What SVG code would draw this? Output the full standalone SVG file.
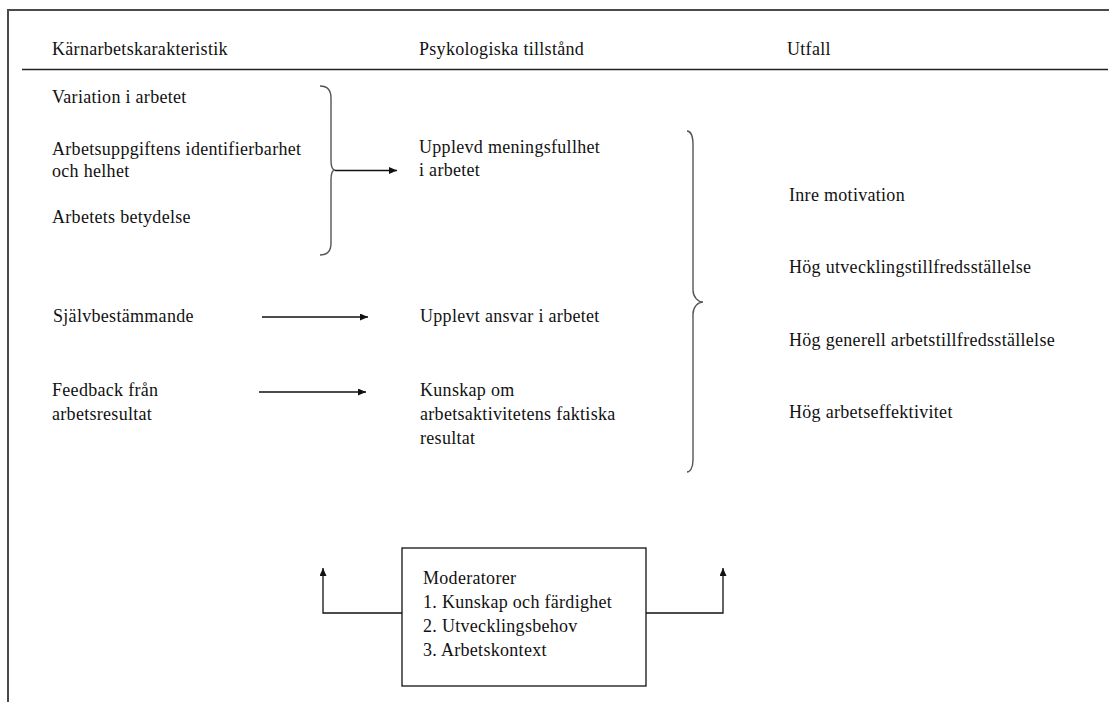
<svg xmlns="http://www.w3.org/2000/svg" width="1109" height="702" viewBox="0 0 1109 702">
<style>
text{font-family:"Liberation Serif","Times New Roman",serif;font-size:18px;fill:#111;letter-spacing:0.3px}
.frame{stroke:#4a4a4a;stroke-width:2;fill:none}
.sep{stroke:#222;stroke-width:1.5;fill:none}
.brace{stroke:#555;stroke-width:1.4;fill:none}
.conn{stroke:#111;stroke-width:1.3;fill:none}
.box{stroke:#111;stroke-width:1.3;fill:#fff}
</style>
<defs>
<marker id="ah" markerUnits="userSpaceOnUse" markerWidth="9" markerHeight="8" refX="8" refY="3.5" orient="auto">
<path d="M0,0 L8,3.5 L0,7 z" fill="#111"/>
</marker>
</defs>
<rect x="0" y="0" width="1109" height="702" fill="#fff"/>
<g id="frame">
<path class="frame" d="M8,702 L8,10 L1109,10"/>
<line class="sep" x1="22" y1="69.5" x2="1108" y2="69.5"/>
</g>
<g id="headers">
<text x="52" y="55">Kärnarbetskarakteristik</text>
<text x="419" y="55">Psykologiska tillstånd</text>
<text x="787" y="55">Utfall</text>
</g>
<g id="node-variation"><text x="52" y="103">Variation i arbetet</text></g>
<g id="node-identifierbarhet"><text x="52" y="155">Arbetsuppgiftens identifierbarhet</text><text x="52" y="177">och helhet</text></g>
<g id="node-betydelse"><text x="52" y="223">Arbetets betydelse</text></g>
<g id="node-sjalvbestammande"><text x="53" y="322">Självbestämmande</text></g>
<g id="node-feedback"><text x="52" y="396">Feedback från</text><text x="52" y="420">arbetsresultat</text></g>
<g id="node-meningsfullhet"><text x="419" y="153">Upplevd meningsfullhet</text><text x="419" y="176">i arbetet</text></g>
<g id="node-ansvar"><text x="420" y="322">Upplevt ansvar i arbetet</text></g>
<g id="node-kunskap"><text x="420" y="396">Kunskap om</text><text x="420" y="420">arbetsaktivitetens faktiska</text><text x="420" y="444">resultat</text></g>
<g id="node-inre"><text x="789" y="201">Inre motivation</text></g>
<g id="node-utveckling"><text x="789" y="273">Hög utvecklingstillfredsställelse</text></g>
<g id="node-generell"><text x="789" y="346">Hög generell arbetstillfredsställelse</text></g>
<g id="node-effektivitet"><text x="789" y="418">Hög arbetseffektivitet</text></g>
<g id="node-moderatorer">
<rect class="box" x="402" y="548" width="244" height="138"/>
<text x="423" y="584">Moderatorer</text>
<text x="423" y="608">1. Kunskap och färdighet</text>
<text x="423" y="632">2. Utvecklingsbehov</text>
<text x="423" y="656">3. Arbetskontext</text>
</g>
<g id="connectors">
<path class="brace" d="M320,86 C327,86 331,90 331,98 L331,160 C331,166 332,170 335,170 C332,170 331,174 331,180 L331,243 C331,251 327,255 320,255"/>
<path class="brace" d="M687,131 C690,131 693,135 693,145 L693,290 C693,297 698,302 703,302 C698,302 693,307 693,314 L693,460 C693,468 690,472 687,472"/>
<line class="conn" x1="335" y1="170.5" x2="397" y2="170.5" marker-end="url(#ah)"/>
<line class="conn" x1="262" y1="317" x2="368" y2="317" marker-end="url(#ah)"/>
<line class="conn" x1="259" y1="392" x2="366" y2="392" marker-end="url(#ah)"/>
<path class="conn" d="M402,613 L323,613 L323,568" marker-end="url(#ah)"/>
<path class="conn" d="M646,613 L723,613 L723,568" marker-end="url(#ah)"/>
</g>
</svg>
